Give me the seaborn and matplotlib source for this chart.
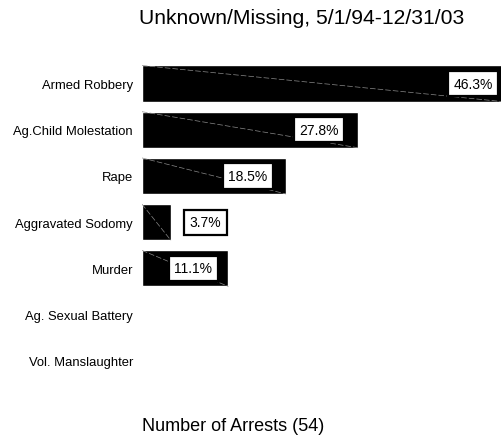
import pandas as pd
import seaborn as sns
import matplotlib
matplotlib.use("Agg")
import matplotlib.pyplot as plt

OUTPUT_PATH = "out.png"

CATEGORIES = [
    "Armed Robbery",
    "Ag.Child Molestation",
    "Rape",
    "Aggravated Sodomy",
    "Murder",
    "Ag. Sexual Battery",
    "Vol. Manslaughter",
]
ARRESTS = [25, 15, 10, 2, 6, 0, 0]
PERCENT_LABELS = ["46.3%", "27.8%", "18.5%", "3.7%", "11.1%", "", ""]
TITLE = "Unknown/Missing, 5/1/94-12/31/03"
XLABEL = "Number of Arrests (54)"

# where each label box sits relative to the end of its bar (data units)
LABEL_SHIFT = [-2.0, -2.7, -2.65, 2.4, -2.45, 0, 0]

sns.set_theme(style="white")
plt.rcParams["font.family"] = ["Liberation Sans", "DejaVu Sans"]
plt.rcParams["text.color"] = "black"
plt.rcParams["ytick.labelcolor"] = "black"

df = pd.DataFrame({"category": CATEGORIES, "arrests": ARRESTS})

fig = plt.figure(figsize=(5.02, 4.39), dpi=100)
ax = fig.add_axes([142 / 502, 1 - 385 / 439, 360 / 502, (385 - 61.4) / 439])

sns.barplot(data=df, x="arrests", y="category", order=CATEGORIES, color="black",
            saturation=1, width=0.78, orient="h", ax=ax)

# faint diagonal streaks seen in the original rendering
for patch in ax.patches:
    w = patch.get_width()
    if w <= 0:
        continue
    x0, y0, h = patch.get_x(), patch.get_y(), patch.get_height()
    ax.plot([x0, x0 + w], [y0, y0 + h], color="#8a8a8a", lw=0.5,
            linestyle=(0, (8, 3)), zorder=3)

for i, (val, lab) in enumerate(zip(ARRESTS, PERCENT_LABELS)):
    if not lab:
        continue
    ax.text(val + LABEL_SHIFT[i], i, lab, ha="center", va="center", fontsize=10,
            color="black", zorder=4,
            bbox=dict(boxstyle="square,pad=0.4", facecolor="white",
                      edgecolor="black", linewidth=1.6))

ax.set_xlim(0, 25)
ax.set_ylim(6.5, -0.5)
ax.set_xlabel("")
ax.set_ylabel("")
ax.set_xticks([])
ax.tick_params(axis="y", length=0, pad=6.5, labelsize=9.4, labelcolor="black")
for spine in ax.spines.values():
    spine.set_visible(False)

fig.text(139 / 502, 1 - 19 / 439, TITLE, ha="left", va="center", fontsize=15.2)
fig.text(142 / 502, 1 - 427 / 439, XLABEL, ha="left", va="center", fontsize=13)

fig.savefig(OUTPUT_PATH, dpi=100)
